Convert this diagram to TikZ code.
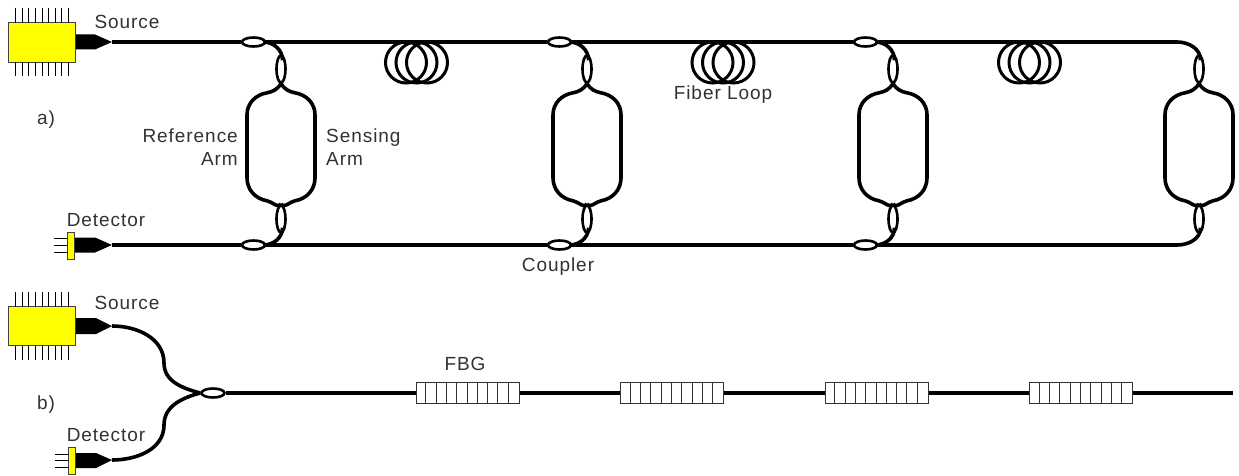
\documentclass[tikz,border=0pt]{standalone}
\usepackage{fontspec}
\setmainfont[LetterSpace=5]{Liberation Sans}
\usetikzlibrary{shapes.geometric}
\definecolor{boxyellow}{RGB}{255,255,0}
\definecolor{labelgray}{RGB}{50,50,50}
\tikzset{%
  fiber/.style={line width=3.6pt},
  pin/.style={line width=1pt},
  lbl/.style={text=labelgray,inner sep=0pt,font=\fontsize{19}{23}\selectfont},
  cplH/.style={draw,ellipse,line width=2.6pt,inner sep=0pt,minimum width=23pt,minimum height=9pt},
  cplV/.style={draw,ellipse,line width=2.6pt,inner sep=0pt,minimum width=9pt,minimum height=27pt},
  yelbox/.style={draw=black!75,line width=1pt,fill=boxyellow,inner sep=0pt},
  fbgbox/.style={draw=black!80,fill=white,line width=1pt,inner sep=0pt,minimum width=103pt,minimum height=21pt},
}
\begin{document}
\begin{tikzpicture}[x=1pt,y=1pt]
\useasboundingbox (0,0) rectangle (1239,-476);
% part a
\node[yelbox,minimum width=67.5pt,minimum height=40pt] (srcA) at (42.2,-42.5) {};
\node[yelbox,minimum width=7.5pt,minimum height=27pt] (detA) at (71,-246) {};
\foreach \x in {0,...,8} {
  \draw[pin] (15.7+\x*6.58,-8) -- (15.7+\x*6.58,-23);
  \draw[pin] (15.7+\x*6.58,-62) -- (15.7+\x*6.58,-76);
}
\foreach \y in {238,245,252} \draw[pin] (54,-\y) -- (67,-\y);
\coordinate (srcAtip) at (112,-42);
\coordinate (detAtip) at (112,-245);
\fill (76,-34.5) -- (95,-34.5) -- (srcAtip) -- (95,-49.5) -- (76,-49.5) -- cycle;
\fill (75,-237.5) -- (95,-237.5) -- (detAtip) -- (95,-252.5) -- (75,-252.5) -- cycle;
\foreach \i/\x in {1/0,2/306,3/612,4/918} {
  \node[cplV] (vtop\i) at (281+\x,-69) {};
  \node[cplV] (vbot\i) at (281+\x,-219) {};
  \draw[fiber] (vtop\i.south) to[out=-125,in=10] ++(-14,-9) to[out=190,in=90] ++(-20,-22) -- ++(0,-63)
    to[out=-90,in=170] ++(20,-23) to[out=-10,in=-125] (vbot\i.north);
  \draw[fiber] (vtop\i.south) to[out=-55,in=170] ++(14,-9) to[out=-10,in=90] ++(20,-22) -- ++(0,-63)
    to[out=-90,in=10] ++(-20,-23) to[out=190,in=-55] (vbot\i.north);
}
\foreach \i/\x in {1/0,2/306,3/612} {
  \node[cplH] (ctop\i) at (253.5+\x,-42) {};
  \node[cplH] (cbot\i) at (253.5+\x,-245) {};
  \draw[fiber] ([xshift=-3pt]ctop\i.east) to[out=0,in=90] ([xshift=1.5pt,yshift=-6pt]vtop\i.north);
  \draw[fiber] ([xshift=-3pt]cbot\i.east) to[out=0,in=-90] ([xshift=1.5pt,yshift=6pt]vbot\i.south);
}
\draw[fiber] (srcAtip) -- (ctop1.west);
\draw[fiber] (detAtip) -- (cbot1.west);
\draw[fiber] (ctop1.east) -- (ctop2.west);
\draw[fiber] (ctop2.east) -- (ctop3.west);
\draw[fiber] (cbot1.east) -- (cbot2.west);
\draw[fiber] (cbot2.east) -- (cbot3.west);
\draw[fiber] (ctop3.east) -- (1177,-42) to[out=0,in=90] ([xshift=1.5pt,yshift=-6pt]vtop4.north);
\draw[fiber] (cbot3.east) -- (1177,-245) to[out=0,in=-90] ([xshift=1.5pt,yshift=6pt]vbot4.south);
% loops
\foreach \x in {416.5,723,1029.5} {
  \foreach \d in {-10.5,0,10.5} \draw[line width=3pt] (\x+\d,-62.5) ellipse (20.5 and 20.5);
}
\node[lbl] (lblSrcA) at (127,-22) {Source};
\node[lbl] (lblDetA) at (106,-220) {Detector};
\node[lbl] (lblA) at (46,-120) {a)};
\node[lbl,anchor=east,align=right] (lblRef) at (238,-147) {Reference\\Arm};
\node[lbl,anchor=west,align=left] (lblSen) at (326,-147) {Sensing\\Arm};
\node[lbl] (lblLoop) at (723,-95) {Fiber Loop};
\node[lbl] (lblCpl) at (558,-267) {Coupler};
% part b
\node[yelbox,minimum width=67.5pt,minimum height=39pt] (srcB) at (42.2,-326) {};
\node[yelbox,minimum width=7.5pt,minimum height=27pt] (detB) at (72.2,-460.5) {};
\foreach \x in {0,...,8} {
  \draw[pin] (15.7+\x*6.58,-292) -- (15.7+\x*6.58,-306.5);
  \draw[pin] (15.7+\x*6.58,-346) -- (15.7+\x*6.58,-360);
}
\foreach \y in {454,460,467} \draw[pin] (55,-\y) -- (68.5,-\y);
\coordinate (srcBtip) at (112,-326);
\coordinate (detBtip) at (112,-460);
\fill (76,-318) -- (96,-318) -- (srcBtip) -- (96,-334) -- (76,-334) -- cycle;
\fill (76,-453) -- (96,-453) -- (detBtip) -- (96,-468) -- (76,-468) -- cycle;
\node[cplH] (cplB) at (213,-393) {};
\draw[fiber] (srcBtip) to[out=0,in=90] (164,-363) to[out=-90,in=165] (cplB.west);
\draw[fiber] (detBtip) to[out=0,in=-90] (164,-425) to[out=90,in=-165] (cplB.west);
\foreach \i/\x in {1/467.5,2/672,3/876.5,4/1081} {
  \node[fbgbox] (fbg\i) at (\x,-393) {};
  \foreach \k in {1,...,9} \draw[pin,black!80] ([xshift=\k*10.3pt]fbg\i.north west) -- ([xshift=\k*10.3pt]fbg\i.south west);
}
\coordinate (fiberEnd) at (1233,-393);
\draw[fiber] (cplB.east) -- (fbg1.west);
\draw[fiber] (fbg1.east) -- (fbg2.west);
\draw[fiber] (fbg2.east) -- (fbg3.west);
\draw[fiber] (fbg3.east) -- (fbg4.west);
\draw[fiber] (fbg4.east) -- (fiberEnd);
\node[lbl] (lblSrcB) at (127,-303) {Source};
\node[lbl] (lblDetB) at (106,-435) {Detector};
\node[lbl] (lblB) at (46,-405) {b)};
\node[lbl] (lblFbg) at (465,-364) {FBG};
\end{tikzpicture}
\end{document}
